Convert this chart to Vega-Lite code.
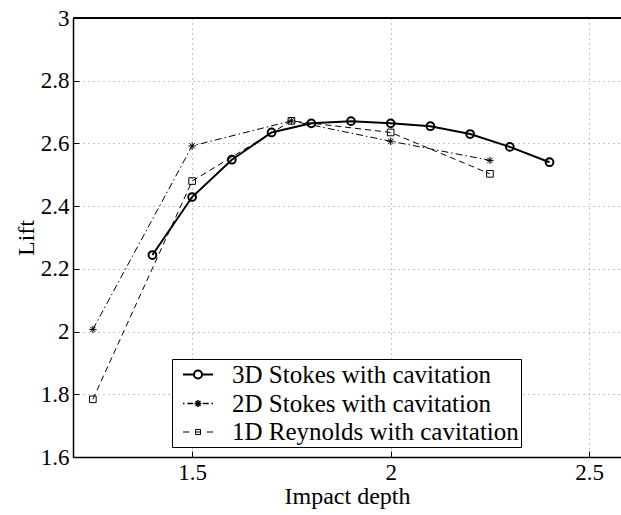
{
  "$schema": "https://vega.github.io/schema/vega-lite/v6.json",
  "width": 548,
  "height": 439,
  "autosize": {"type": "none"},
  "padding": {"left": 73, "top": 18, "right": 0, "bottom": 58},
  "background": "white",
  "config": {
    "view": {"stroke": null},
    "font": "Liberation Serif",
    "axis": {
      "labelFont": "Liberation Serif",
      "titleFont": "Liberation Serif",
      "labelFontSize": 23,
      "titleFontSize": 24,
      "labelColor": "black",
      "titleColor": "black",
      "titleFontWeight": "normal",
      "domainColor": "black",
      "domainWidth": 1.5,
      "tickColor": "black",
      "tickWidth": 1,
      "gridColor": "#8a8a8a",
      "gridDash": [1, 4],
      "gridWidth": 1
    }
  },
  "data": {
    "values": [
      {"depth": 1.4, "lift": 2.244, "series": "3D Stokes with cavitation"},
      {"depth": 1.5, "lift": 2.429, "series": "3D Stokes with cavitation"},
      {"depth": 1.6, "lift": 2.548, "series": "3D Stokes with cavitation"},
      {"depth": 1.7, "lift": 2.635, "series": "3D Stokes with cavitation"},
      {"depth": 1.8, "lift": 2.664, "series": "3D Stokes with cavitation"},
      {"depth": 1.9, "lift": 2.671, "series": "3D Stokes with cavitation"},
      {"depth": 2.0, "lift": 2.664, "series": "3D Stokes with cavitation"},
      {"depth": 2.1, "lift": 2.655, "series": "3D Stokes with cavitation"},
      {"depth": 2.2, "lift": 2.630, "series": "3D Stokes with cavitation"},
      {"depth": 2.3, "lift": 2.589, "series": "3D Stokes with cavitation"},
      {"depth": 2.4, "lift": 2.540, "series": "3D Stokes with cavitation"},
      {"depth": 1.25, "lift": 2.007, "series": "2D Stokes with cavitation"},
      {"depth": 1.5, "lift": 2.592, "series": "2D Stokes with cavitation"},
      {"depth": 1.75, "lift": 2.672, "series": "2D Stokes with cavitation"},
      {"depth": 2.0, "lift": 2.607, "series": "2D Stokes with cavitation"},
      {"depth": 2.25, "lift": 2.546, "series": "2D Stokes with cavitation"},
      {"depth": 1.25, "lift": 1.784, "series": "1D Reynolds with cavitation"},
      {"depth": 1.5, "lift": 2.480, "series": "1D Reynolds with cavitation"},
      {"depth": 1.75, "lift": 2.672, "series": "1D Reynolds with cavitation"},
      {"depth": 2.0, "lift": 2.635, "series": "1D Reynolds with cavitation"},
      {"depth": 2.25, "lift": 2.503, "series": "1D Reynolds with cavitation"}
    ]
  },
  "encoding": {
    "x": {
      "field": "depth", "type": "quantitative",
      "scale": {"domain": [1.2, 2.58], "nice": false, "zero": false},
      "axis": {"orient": "bottom", "title": "Impact depth", "values": [1.5, 2, 2.5], "format": "~g", "grid": true, "tickSize": -6, "labelPadding": 10, "titlePadding": 0}
    },
    "y": {
      "field": "lift", "type": "quantitative",
      "scale": {"domain": [1.6, 3], "nice": false, "zero": false},
      "axis": {"orient": "left", "title": "Lift", "values": [1.6, 1.8, 2, 2.2, 2.4, 2.6, 2.8, 3], "format": "~g", "grid": true, "tickSize": -6, "labelPadding": 10, "titlePadding": 2}
    }
  },
  "layer": [
    {
      "mark": {"type": "rule", "color": "black", "strokeWidth": 1.5},
      "encoding": {"x": null, "y": {"datum": 3}}
    },
    {
      "transform": [{"filter": "datum.series === '2D Stokes with cavitation'"}],
      "mark": {"type": "line", "color": "black", "strokeWidth": 1, "strokeDash": [7, 3, 1.5, 3]}
    },
    {
      "transform": [{"filter": "datum.series === '1D Reynolds with cavitation'"}],
      "mark": {"type": "line", "color": "black", "strokeWidth": 1, "strokeDash": [6, 4]}
    },
    {
      "transform": [{"filter": "datum.series === '3D Stokes with cavitation'"}],
      "mark": {"type": "line", "color": "black", "strokeWidth": 2}
    },
    {
      "transform": [{"filter": "datum.series === '2D Stokes with cavitation'"}],
      "mark": {"type": "point", "shape": "M-1,0L1,0M0,-1L0,1M-0.7,-0.7L0.7,0.7M-0.7,0.7L0.7,-0.7", "color": "black", "filled": false, "opacity": 1, "size": 56, "strokeWidth": 1}
    },
    {
      "transform": [{"filter": "datum.series === '1D Reynolds with cavitation'"}],
      "mark": {"type": "point", "shape": "square", "color": "black", "filled": false, "opacity": 1, "size": 44, "strokeWidth": 1}
    },
    {
      "transform": [{"filter": "datum.series === '3D Stokes with cavitation'"}],
      "mark": {"type": "point", "shape": "circle", "color": "black", "filled": false, "opacity": 1, "size": 60, "strokeWidth": 2}
    },
    {
      "mark": {"type": "point", "color": "black", "filled": false, "opacity": 0, "size": 10},
      "encoding": {
        "shape": {
          "field": "series", "type": "nominal",
          "scale": {
            "domain": ["3D Stokes with cavitation", "2D Stokes with cavitation", "1D Reynolds with cavitation"],
            "range": [
              "M-0.36,0L0.52,0M1.16,0L2.04,0M1.16,0A0.32,0.32 0 1,1 0.52,0A0.32,0.32 0 1,1 1.16,0",
              "M-0.36,0L-0.24,0M-0.01,0L0.46,0M1.22,0L1.69,0M1.92,0L2.04,0M0.56,0L1.12,0M0.84,-0.28L0.84,0.28M0.64,-0.2L1.04,0.2M0.64,0.2L1.04,-0.2",
              "M-0.36,0L0.14,0M1.54,0L2.04,0M0.64,-0.2L1.04,-0.2L1.04,0.2L0.64,0.2ZM0.64,0L1.04,0"
            ]
          },
          "legend": {
            "title": null,
            "orient": "none",
            "legendX": 99,
            "legendY": 341,
            "labelFont": "Liberation Serif",
            "labelFontSize": 25,
            "labelColor": "black",
            "labelOffset": 31,
            "labelLimit": 400,
            "strokeColor": "black",
            "fillColor": "white",
            "padding": 2,
            "rowPadding": 2,
            "symbolSize": 625,
            "symbolOpacity": 1,
            "symbolStrokeColor": "black",
            "symbolFillColor": "transparent"
          }
        },
        "strokeWidth": {
          "field": "series", "type": "nominal",
          "scale": {"domain": ["3D Stokes with cavitation", "2D Stokes with cavitation", "1D Reynolds with cavitation"], "range": [2, 1, 1]}
        }
      }
    }
  ]
}
